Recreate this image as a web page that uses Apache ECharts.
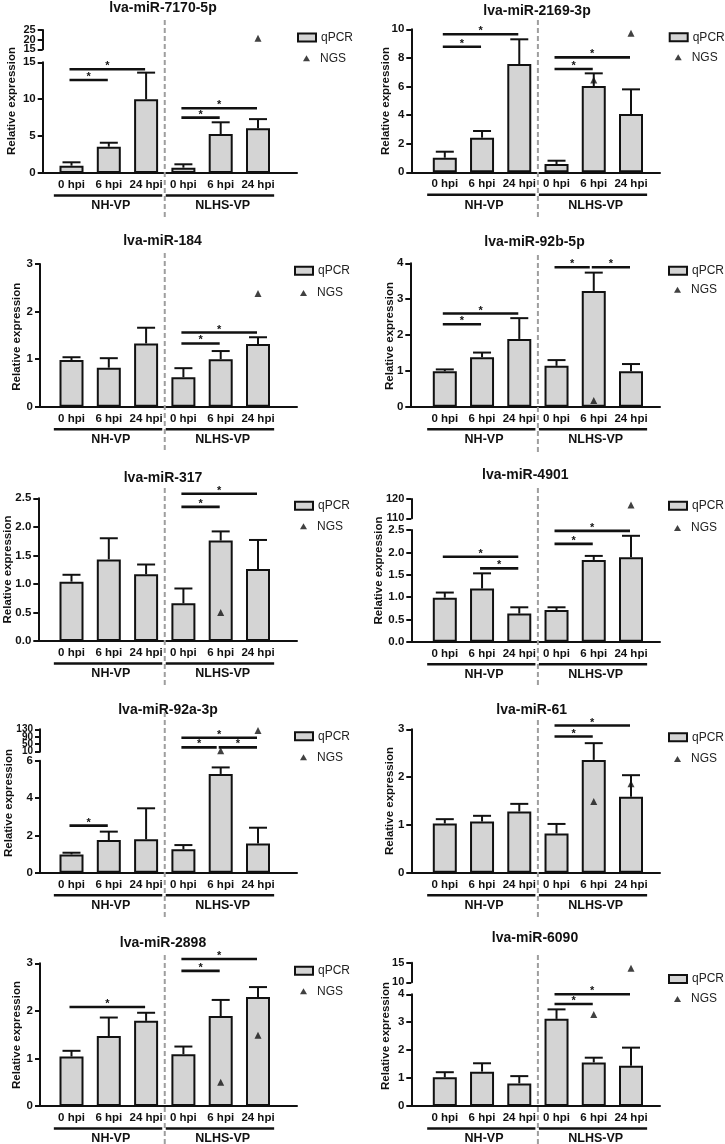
<!DOCTYPE html>
<html><head><meta charset="utf-8">
<script src="https://cdn.jsdelivr.net/npm/echarts@6/dist/echarts.min.js"></script>
<style>html,body{margin:0;padding:0;background:#fff}#c{width:725px;height:1144px}</style>
</head><body><div id="c"></div>
<script>
// ---------------- data ----------------
const categories = ['0 hpi', '6 hpi', '24 hpi', '0 hpi', '6 hpi', '24 hpi'];
const groupNames = ['NH-VP', 'NLHS-VP'];
const groupSpans = [[0, 2], [3, 5]];
const panelTitles = ['lva-miR-7170-5p', 'lva-miR-2169-3p', 'lva-miR-184', 'lva-miR-92b-5p', 'lva-miR-317',
  'lva-miR-4901', 'lva-miR-92a-3p', 'lva-miR-61', 'lva-miR-2898', 'lva-miR-6090'];
const yName = 'Relative expression';

const qpcr7170 = [0.99, 3.56, 10.0, 0.72, 5.28, 6.06];
const sem7170  = [0.46, 0.54, 3.6, 0.46, 1.59, 1.24];
const ngs7170  = [[5, 20.7]];
const sig7170  = [[0, 2, 14.05], [0, 1, 12.6], [3, 5, 8.77], [3, 4, 7.5]];

const qpcr2169 = [1.02, 2.42, 7.57, 0.58, 6.03, 4.08];
const sem2169  = [0.42, 0.47, 1.73, 0.23, 0.89, 1.72];
const ngs2169  = [[4, 6.45], [5, 9.72]];
const sig2169  = [[0, 2, 9.65], [0, 1, 8.78], [3, 5, 8.04], [3, 4, 7.22]];

const qpcr184 = [0.98, 0.82, 1.33, 0.62, 1.0, 1.32];
const sem184  = [0.06, 0.20, 0.33, 0.19, 0.17, 0.14];
const ngs184  = [[5, 2.38]];
const sig184  = [[3, 5, 1.56], [3, 4, 1.33]];

const qpcr92b = [0.99, 1.38, 1.89, 1.14, 3.23, 0.99];
const sem92b  = [0.05, 0.13, 0.58, 0.16, 0.51, 0.20];
const ngs92b  = [[4, 0.17]];
const sig92b  = [[0, 2, 2.6], [0, 1, 2.3], [3, 4, 3.89], [4, 5, 3.89]];

const qpcr317 = [1.04, 1.43, 1.17, 0.66, 1.76, 1.26];
const sem317  = [0.12, 0.37, 0.17, 0.26, 0.16, 0.51];
const ngs317  = [[4, 0.50]];
const sig317  = [[3, 5, 2.58], [3, 4, 2.35]];

const qpcr4901 = [0.985, 1.19, 0.63, 0.71, 1.83, 1.89];
const sem4901  = [0.115, 0.34, 0.14, 0.06, 0.09, 0.48];
const ngs4901  = [[5, 116.9]];
const sig4901  = [[0, 2, 1.90], [1, 2, 1.64], [3, 5, 2.48], [3, 4, 2.19]];

const qpcr92a = [0.98, 1.75, 1.79, 1.25, 5.29, 1.57];
const sem92a  = [0.09, 0.45, 1.66, 0.23, 0.35, 0.84];
const ngs92a  = [[4, 15], [5, 123]];
const sig92a  = [[0, 1, 2.52], [3, 5, 85], [3, 4, 33], [4, 5, 33]];

const qpcr61 = [1.03, 1.07, 1.28, 0.82, 2.36, 1.59];
const sem61  = [0.09, 0.12, 0.16, 0.20, 0.35, 0.45];
const ngs61  = [[4, 1.49], [5, 1.86]];
const sig61  = [[3, 5, 3.08], [3, 4, 2.85]];

const qpcr2898 = [1.04, 1.47, 1.79, 1.09, 1.89, 2.29];
const sem2898  = [0.12, 0.39, 0.17, 0.16, 0.34, 0.21];
const ngs2898  = [[4, 0.50], [5, 1.49]];
const sig2898  = [[0, 2, 2.08], [3, 5, 3.09], [3, 4, 2.84]];

const qpcr6090 = [1.03, 1.23, 0.81, 3.12, 1.56, 1.44];
const sem6090  = [0.18, 0.30, 0.26, 0.34, 0.17, 0.65];
const ngs6090  = [[4, 3.28], [5, 13.6]];
const sig6090  = [[3, 5, 4.0], [3, 4, 3.65]];

// axis ranges / tick labels
const yMaxes     = [15, 10, 3, 4, 2.5, 2.5, 6, 3, 3, 4];
const yIntervals = [5, 2, 1, 1, 0.5, 0.5, 2, 1, 1, 1];
const yDecimals  = [0, 0, 0, 0, 1, 1, 0, 0, 0, 0];
const upperTicks = [[15, 20, 25], null, null, null, null, [110, 120], [10, 50, 90, 130], null, null, [10, 15]];

// ---------------- layout (pixels) ----------------
const LEFT = {x0: 71.5, unit: 37.3, axR: 297, legX: 294};
const RIGHT = {x0: 444.8, unit: 37.24, axR: 660, legX: 668};
const layouts = [
  Object.assign({}, LEFT, {ax: 42.7, top: 62.3, bot: 173, upTop: 30, upBot: 49.3, titleX: 163, titleY: 9.5, nameX: 12, nameY: 101, legX: 297, legY: [38.5, 59.3], divTop: 20}),
  Object.assign({}, RIGHT, {ax: 411.3, top: 29.3, bot: 172.3, titleX: 537, titleY: 12.5, nameX: 386, nameY: 101, legX: 668.7, legY: [38.3, 58.3], divTop: 20}),
  Object.assign({}, LEFT, {ax: 40, top: 264, bot: 406.7, titleX: 162.5, titleY: 242.5, nameX: 17.3, nameY: 336.7, legY: [271.7, 294], divTop: 253}),
  Object.assign({}, RIGHT, {ax: 410.3, top: 263.3, bot: 406.7, titleX: 534.5, titleY: 243, nameX: 390.3, nameY: 336, legY: [271.7, 290.7], divTop: 255}),
  Object.assign({}, LEFT, {ax: 38.3, top: 498.3, bot: 641, titleX: 163, titleY: 479, nameX: 8.3, nameY: 569.5, legY: [506.7, 527.3], divTop: 488}),
  Object.assign({}, RIGHT, {ax: 411.3, top: 530, bot: 641.7, upTop: 499, upBot: 518.3, titleX: 525.3, titleY: 476, nameX: 379.3, nameY: 570.5, legY: [506.7, 529], divTop: 488}),
  Object.assign({}, LEFT, {ax: 40, top: 760.7, bot: 872.7, upTop: 729.3, upBot: 751.7, titleX: 168, titleY: 711.5, nameX: 9.3, nameY: 803, legY: [737.3, 758.3], divTop: 712}),
  Object.assign({}, RIGHT, {ax: 411.3, top: 729.3, bot: 872.7, titleX: 531.7, titleY: 711.5, nameX: 390.3, nameY: 801, legY: [738.3, 760], divTop: 720}),
  Object.assign({}, LEFT, {ax: 40, top: 963.3, bot: 1106, titleX: 163, titleY: 944, nameX: 17.3, nameY: 1035, legY: [971.7, 992.3], divTop: 955}),
  Object.assign({}, RIGHT, {ax: 411.3, top: 994.3, bot: 1106, upTop: 962.7, upBot: 982.3, titleX: 535, titleY: 939, nameX: 386, nameY: 1036, legY: [980, 1000], divTop: 955})
];

const panelMeans = [qpcr7170, qpcr2169, qpcr184, qpcr92b, qpcr317, qpcr4901, qpcr92a, qpcr61, qpcr2898, qpcr6090];
const panelSems  = [sem7170, sem2169, sem184, sem92b, sem317, sem4901, sem92a, sem61, sem2898, sem6090];
const panelNgs   = [ngs7170, ngs2169, ngs184, ngs92b, ngs317, ngs4901, ngs92a, ngs61, ngs2898, ngs6090];
const panelSig   = [sig7170, sig2169, sig184, sig92b, sig317, sig4901, sig92a, sig61, sig2898, sig6090];

// ---------------- styles ----------------
const FONT = "'Liberation Sans', Arial, Helvetica, sans-serif";
const INK = '#111111';
const BARFILL = '#d4d4d4';
const DIVIDER = '#9e9e9e';

const option = {
  animation: false, backgroundColor: '#ffffff',
  title: [], legend: [], grid: [], xAxis: [], yAxis: [], series: [], graphic: []
};

function sigRenderer(allSig) {
  return function (params, api) {
    const i1 = api.value(0), i2 = api.value(1), y = api.value(2);
    const a = api.coord([i1, y]), b = api.coord([i2, y]);
    // leave a gap where another comparison at the same height continues
    const continued = allSig.some(s => s[0] === i2 && Math.abs(s[2] - y) < 1e-9);
    const x1 = a[0] - 2, x2 = b[0] - (continued ? 4 : 1);
    return {
      type: 'group', children: [
        {type: 'line', shape: {x1: x1, y1: a[1], x2: x2, y2: a[1]}, style: {stroke: INK, lineWidth: 2.6}},
        {type: 'text', x: (x1 + x2) / 2, y: a[1] - 3, style: {text: '*', font: 'bold 11px ' + FONT, fill: INK, align: 'center', verticalAlign: 'middle'}}
      ]
    };
  };
}

function errRenderer(params, api) {
  const x = api.value(0), m = api.value(1), t = api.value(2);
  const pb = api.coord([x, m]), pt = api.coord([x, t]);
  return {
    type: 'group', children: [
      {type: 'line', shape: {x1: pb[0], y1: pb[1], x2: pt[0], y2: pt[1]}, style: {stroke: INK, lineWidth: 2}},
      {type: 'line', shape: {x1: pt[0] - 9, y1: pt[1], x2: pt[0] + 9, y2: pt[1]}, style: {stroke: INK, lineWidth: 2}}
    ]
  };
}

function yAxisBase(gi, min, max) {
  return {
    type: 'value', gridIndex: gi, min: min, max: max,
    axisLine: {show: true, onZero: false, lineStyle: {color: INK, width: 2}},
    axisTick: {show: true, length: 5, lineStyle: {color: INK, width: 2}},
    splitLine: {show: false},
    axisLabel: {fontFamily: FONT, fontWeight: 'bold', fontSize: 11.5, color: INK, margin: 7,
      showMinLabel: true, showMaxLabel: true, hideOverlap: false}
  };
}

panelTitles.forEach((title, k) => {
  const L = layouts[k];
  const means = panelMeans[k], sems = panelSems[k], ngs = panelNgs[k], sig = panelSig[k];
  const yMax = yMaxes[k], dec = yDecimals[k], up = upperTicks[k];
  const xmin = (L.ax - L.x0) / L.unit, xmax = (L.axR - L.x0) / L.unit;

  // lower (main) grid
  const gi = option.grid.length;
  option.grid.push({left: L.ax, top: L.top, width: L.axR - L.ax, height: L.bot - L.top});
  option.xAxis.push({
    type: 'value', gridIndex: gi, min: xmin, max: xmax,
    axisLine: {show: true, onZero: false, lineStyle: {color: INK, width: 2}},
    axisTick: {show: false}, splitLine: {show: false},
    axisLabel: {customValues: categories.map((c, i) => i), formatter: v => categories[Math.round(v)],
      fontFamily: FONT, fontWeight: 'bold', fontSize: 11.5, color: INK, margin: 6}
  });
  const ya = yAxisBase(gi, 0, yMax);
  ya.interval = yIntervals[k];
  ya.axisLabel.formatter = v => v.toFixed(dec);
  option.yAxis.push(ya);

  // upper grid for broken axes; its tightly packed labels are split over two
  // overlaid axes so that none of them gets dropped for overlapping
  let gu = -1;
  if (up) {
    const upFont = up.length > 3 ? 10 : 11;
    const setA = up.filter((v, i) => i % 2 === 0);
    const setB = up.filter((v, i) => i % 2 === 1);
    gu = option.grid.length;
    option.grid.push({left: L.ax, top: L.upTop, width: L.axR - L.ax, height: L.upBot - L.upTop});
    option.xAxis.push({type: 'value', gridIndex: gu, min: xmin, max: xmax, show: false});
    const yu = yAxisBase(gu, up[0], up[up.length - 1]);
    yu.axisTick.customValues = up;
    yu.axisLabel.customValues = setA;
    yu.axisLabel.fontSize = upFont;
    option.yAxis.push(yu);
    if (setB.length) {
      const gb = option.grid.length;
      option.grid.push({left: L.ax, top: L.upTop, width: L.axR - L.ax, height: L.upBot - L.upTop});
      option.xAxis.push({type: 'value', gridIndex: gb, min: xmin, max: xmax, show: false});
      const yb = yAxisBase(gb, up[0], up[up.length - 1]);
      yb.axisLine.show = false;
      yb.axisTick.show = false;
      yb.axisLabel.customValues = setB;
      yb.axisLabel.fontSize = upFont;
      option.yAxis.push(yb);
    }
  }
  const toUpper = v => gu >= 0 && v > yMax;

  // qPCR bars
  option.series.push({
    type: 'bar', name: 'qPCR', xAxisIndex: gi, yAxisIndex: gi, barWidth: 24, z: 2,
    data: means.map((v, i) => [i, v]),
    itemStyle: {color: BARFILL, borderColor: INK, borderWidth: 2}
  });
  // error bars (mean + SEM, upper only)
  option.series.push({
    type: 'custom', xAxisIndex: gi, yAxisIndex: gi, z: 3,
    data: means.map((v, i) => [i, v, v + sems[i]]),
    encode: {x: 0, y: [1, 2]}, renderItem: errRenderer
  });
  // NGS points
  option.series.push({
    type: 'scatter', name: 'NGS', xAxisIndex: gi, yAxisIndex: gi, z: 5,
    symbol: 'triangle', symbolSize: 7, data: ngs.filter(d => !toUpper(d[1])), itemStyle: {color: INK}
  });
  if (gu >= 0) {
    option.series.push({
      type: 'scatter', name: 'NGS', xAxisIndex: gu, yAxisIndex: gu, z: 5,
      symbol: 'triangle', symbolSize: 7, data: ngs.filter(d => toUpper(d[1])), itemStyle: {color: INK}
    });
  }
  // significance bars
  const sigLow = sig.filter(s => !toUpper(s[2]));
  const sigHigh = sig.filter(s => toUpper(s[2]));
  option.series.push({
    type: 'custom', xAxisIndex: gi, yAxisIndex: gi, z: 4, clip: false,
    data: sigLow, encode: {x: [0, 1], y: 2}, renderItem: sigRenderer(sigLow)
  });
  if (sigHigh.length) {
    option.series.push({
      type: 'custom', xAxisIndex: gu, yAxisIndex: gu, z: 4, clip: false,
      data: sigHigh, encode: {x: [0, 1], y: 2}, renderItem: sigRenderer(sigHigh)
    });
  }
  // group underline + group names
  option.series.push({
    type: 'custom', xAxisIndex: gi, yAxisIndex: gi, z: 4, clip: false,
    data: groupSpans.map((g, j) => [g[0], g[1], j]),
    encode: {x: [0, 1]},
    renderItem: function (params, api) {
      const a = api.coord([api.value(0) - 0.5, 0]), b = api.coord([api.value(1) + 0.5, 0]);
      const c1 = api.coord([api.value(0), 0]), c2 = api.coord([api.value(1), 0]);
      const yl = a[1] + 22.5;
      return {
        type: 'group', children: [
          {type: 'line', shape: {x1: a[0] + 1, y1: yl, x2: b[0] - 2.5, y2: yl}, style: {stroke: INK, lineWidth: 2.6}},
          {type: 'text', x: (c1[0] + c2[0]) / 2 + 2, y: a[1] + 33,
            style: {text: groupNames[api.value(2)], font: 'bold 12.5px ' + FONT, fill: INK, align: 'center', verticalAlign: 'middle'}}
        ]
      };
    }
  });
  // dashed divider between the two groups
  const divTop = L.divTop, divBot = L.bot + 46;
  option.series.push({
    type: 'custom', xAxisIndex: gi, yAxisIndex: gi, z: 1, clip: false,
    data: [[(groupSpans[0][1] + groupSpans[1][0]) / 2, 0]],
    renderItem: function (params, api) {
      const p = api.coord([api.value(0), 0]);
      return {type: 'line', shape: {x1: p[0], y1: divTop, x2: p[0], y2: divBot},
        style: {stroke: DIVIDER, lineWidth: 2, lineDash: [5, 3]}};
    }
  });

  // title
  option.title.push({
    text: title, left: L.titleX, top: L.titleY - 8, textAlign: 'center', padding: 0,
    textStyle: {fontFamily: FONT, fontWeight: 'bold', fontSize: 14, color: INK}
  });
  // legends
  option.legend.push({
    data: [{name: 'qPCR', icon: 'rect'}], left: L.legX, top: L.legY[0] - 7, padding: 0,
    itemWidth: 18, itemHeight: 8, selectedMode: false,
    textStyle: {fontFamily: FONT, fontSize: 12, color: '#222'}
  });
  option.legend.push({
    data: [{name: 'NGS', icon: 'triangle'}], left: L.legX + 6, top: L.legY[1] - 7, padding: 0,
    itemWidth: 7, itemHeight: 6, selectedMode: false,
    textStyle: {fontFamily: FONT, fontSize: 12, color: '#222', padding: [0, 0, 0, 5]}
  });
  // y-axis name
  option.graphic.push({
    type: 'text', x: L.nameX, y: L.nameY, rotation: Math.PI / 2,
    style: {text: yName, font: 'bold 11.5px ' + FONT, fill: INK, align: 'center', verticalAlign: 'middle'}
  });
});

const chart = echarts.init(document.getElementById('c'));
chart.setOption(option);
</script>
</body></html>
